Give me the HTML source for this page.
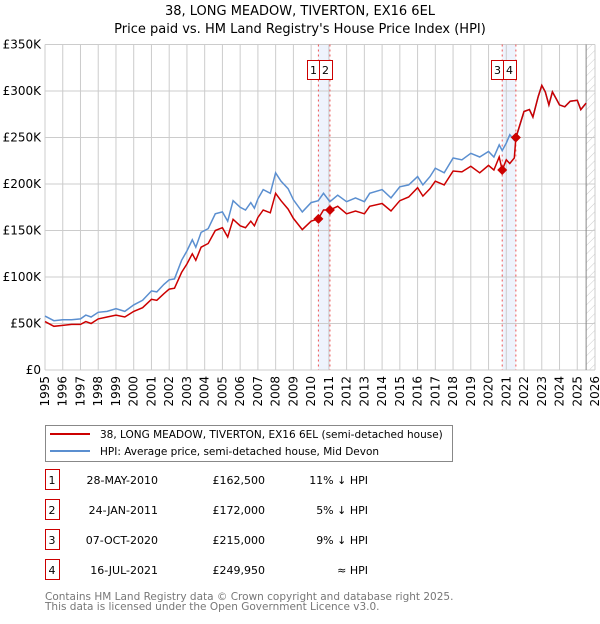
<!DOCTYPE html>
<html><head><meta charset="utf-8"><style>
body{margin:0;background:#fff;font-family:"DejaVu Sans","Liberation Sans",sans-serif;}
svg text{font-family:"DejaVu Sans","Liberation Sans",sans-serif;}
</style></head><body>
<svg id="c" width="600" height="620" xmlns="http://www.w3.org/2000/svg">
<defs><pattern id="hatch" width="6" height="6" patternUnits="userSpaceOnUse" patternTransform="rotate(45)"><line x1="0" y1="0" x2="0" y2="6" stroke="#ccc" stroke-width="1"/></pattern></defs>
<text x="300" y="15" text-anchor="middle" font-size="13">38, LONG MEADOW, TIVERTON, EX16 6EL</text>
<text x="300" y="33" text-anchor="middle" font-size="13">Price paid vs. HM Land Registry's House Price Index (HPI)</text>
<g id="grid"></g><g id="marks"></g>
<g>
<rect x="45.5" y="425.5" width="407" height="36" fill="#fff" stroke="#888"/>
<line x1="50" y1="434" x2="90" y2="434" stroke="#cc0000" stroke-width="2"/>
<text x="100" y="438" font-size="10.5">38, LONG MEADOW, TIVERTON, EX16 6EL (semi-detached house)</text>
<line x1="50" y1="451" x2="90" y2="451" stroke="#5b8fd0" stroke-width="2"/>
<text x="100" y="455" font-size="10.5">HPI: Average price, semi-detached house, Mid Devon</text>
</g>
<g id="table" font-size="11"></g>
<text x="45" y="600" font-size="10.5" fill="#777">Contains HM Land Registry data © Crown copyright and database right 2025.</text>
<text x="45" y="610" font-size="10.5" fill="#777">This data is licensed under the Open Government Licence v3.0.</text>
</svg>
<script>
const years=[1995,1995.5,1996,1996.5,1997,1997.3,1997.6,1998,1998.5,1999,1999.5,2000,2000.5,2001,2001.3,2001.7,2002,2002.3,2002.7,2003,2003.3,2003.5,2003.8,2004.2,2004.6,2005,2005.3,2005.6,2006,2006.3,2006.6,2006.8,2007,2007.3,2007.7,2008,2008.3,2008.7,2009,2009.5,2010,2010.4,2010.7,2011.06,2011.5,2012,2012.5,2013,2013.3,2014,2014.5,2015,2015.5,2016,2016.3,2016.7,2017,2017.5,2018,2018.5,2019,2019.5,2020,2020.3,2020.6,2020.77,2021,2021.2,2021.45,2021.54,2022,2022.3,2022.5,2022.8,2023,2023.2,2023.4,2023.6,2023.8,2024,2024.3,2024.6,2025,2025.2,2025.5];
const hpi=[58,53,54,54,55,59,57,62,63,66,63,70,75,85,84,92,97,98,118,128,140,132,148,152,168,170,160,182,175,172,180,174,184,194,190,212,203,195,183,170,180,182,190,181,188,181,185,181,190,194,185,197,199,208,199,208,217,212,228,226,233,229,235,229,242,236,244,253,247,249,278,280,272,294,306,299,285,299,292,285,283,289,290,280,287];
const price=[52,47,48,49,49,52,50,55,57,59,57,63,67,76,75,82,87,88,105,114,125,118,132,136,150,153,143,162,155,153,160,155,164,172,169,190,182,173,163,151,160,162.5,172,172,176,168,171,168,176,179,171,182,186,196,187,195,203,199,214,213,219,212,220,215,229,215,226,222,228,250,278,280,272,294,306,299,285,299,292,285,283,289,290,280,287];
const yTicks=[0,50,100,150,200,250,300,350];
const yTickLabels=['£0','£50K','£100K','£150K','£200K','£250K','£300K','£350K'];
const xTicks=[1995,1996,1997,1998,1999,2000,2001,2002,2003,2004,2005,2006,2007,2008,2009,2010,2011,2012,2013,2014,2015,2016,2017,2018,2019,2020,2021,2022,2023,2024,2025,2026];
const saleIds=['1','2','3','4'];
const saleYears=[2010.41,2011.06,2020.77,2021.54];
const salePrices=[162.5,172,215,249.95];
const saleDates=['28-MAY-2010','24-JAN-2011','07-OCT-2020','16-JUL-2021'];
const salePriceLabels=['£162,500','£172,000','£215,000','£249,950'];
const saleHpi=['11% ↓ HPI','5% ↓ HPI','9% ↓ HPI','≈ HPI'];
const X0=45,X1=595,Y0=370,Y1=44.5;
const xs=y=>X0+(y-1995)/(2026-1995)*(X1-X0);
const ys=v=>Y0-v/350*(Y0-Y1);
const NS='http://www.w3.org/2000/svg';
function mk(p,t,a){const e=document.createElementNS(NS,t);for(const k in a)e.setAttribute(k,a[k]);p.appendChild(e);return e;}
const g=document.getElementById('grid'),m=document.getElementById('marks'),tb=document.getElementById('table');
for(let i=0;i<4;i+=2){const b=mk(g,'rect',{x:xs(saleYears[i]),y:Y1,width:xs(saleYears[i+1])-xs(saleYears[i]),height:Y0-Y1,fill:'#eef3fc'});

}
xTicks.forEach(t=>{const l=mk(g,'line',{x1:xs(t),x2:xs(t),y1:Y1,y2:Y0,stroke:'#ccc'});


const tx=mk(g,'text',{x:0,y:0,'font-size':12,'text-anchor':'end',transform:`translate(${xs(t)+4},${Y0+6}) rotate(-90)`});tx.textContent=t;

});
yTicks.forEach((t,i)=>{const l=mk(g,'line',{x1:X0,x2:X1,y1:ys(t),y2:ys(t),stroke:'#ccc'});


const tx=mk(g,'text',{x:41,y:ys(t)+4,'font-size':12,'text-anchor':'end'});tx.textContent=yTickLabels[i];

});
const hx=xs(2025.5);
const h=mk(g,'rect',{x:hx,y:Y1,width:X1-hx,height:Y0-Y1,fill:'url(#hatch)'});


mk(g,'line',{x1:hx,x2:hx,y1:Y1,y2:Y0,stroke:'#888'});
saleYears.forEach((y,i)=>{const l=mk(g,'line',{x1:xs(y),x2:xs(y),y1:Y1,y2:Y0,stroke:'#e55','stroke-dasharray':'2,3'});

});
const pts=a=>a.map((v,i)=>xs(years[i]).toFixed(1)+','+ys(v).toFixed(1)).join(' ');
const hl=mk(m,'polyline',{points:pts(hpi),fill:'none',stroke:'#5b8fd0','stroke-width':1.5});


const pl=mk(m,'polyline',{points:pts(price),fill:'none',stroke:'#cc0000','stroke-width':1.5});


saleYears.forEach((y,i)=>{const cx=xs(y),cy=ys(salePrices[i]);
const d=mk(m,'polygon',{points:`${cx},${cy-5} ${cx+5},${cy} ${cx},${cy+5} ${cx-5},${cy}`,fill:'#cc0000'});


const first=i%2==0?i:i-1;const bx=xs(saleYears[first])-11.5+(i%2)*12;
const r=mk(m,'rect',{x:Math.round(bx)+0.5,y:60.5,width:i%2?13:12,height:19,fill:'#fff',stroke:'#cc0000'});


const t=mk(m,'text',{x:Math.round(bx)+6.5,y:74,'font-size':11,'text-anchor':'middle'});t.textContent=saleIds[i];


const ry=476+i*30;
const rb=mk(tb,'rect',{x:45.5,y:ry-10.5+4,width:14,height:20,fill:'#fff',stroke:'#cc0000'});


const cells=[[52,saleIds[i],'middle'],[158,saleDates[i],'end'],[265,salePriceLabels[i],'end'],[368,saleHpi[i],'end']];
cells.forEach(c=>{const e=mk(tb,'text',{x:c[0],y:ry+8,'text-anchor':c[2]});e.textContent=c[1];

});});
</script>
</body></html>
